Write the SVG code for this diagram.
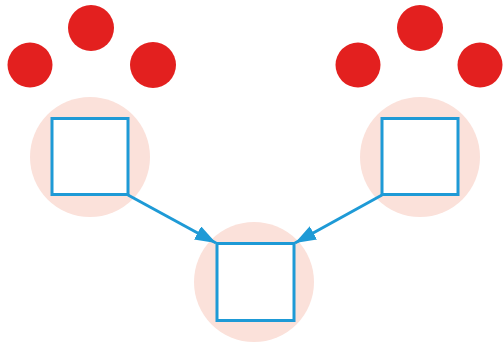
<svg xmlns="http://www.w3.org/2000/svg" width="503" height="347" viewBox="0 0 503 347">
<style>
.dot{fill:#e3201f}
.halo{fill:#fbe1da}
.box{fill:#fff;stroke:#1e9ad6;stroke-width:3}
.link{stroke:#1e9ad6;stroke-width:3;fill:none}
</style>
<defs>
<marker id="ah" viewBox="0 0 14 10" refX="14" refY="5" markerWidth="7" markerHeight="5" markerUnits="strokeWidth" orient="auto">
<path d="M0,0 L14,5 L0,10 Z" fill="#1e9ad6"/>
</marker>
</defs>
<rect width="503" height="347" fill="#fff"/>
<g id="dots-left">
<circle class="dot" cx="30" cy="65" r="22.5"/>
<circle class="dot" cx="91" cy="28" r="23"/>
<circle class="dot" cx="153" cy="65" r="23"/>
</g>
<g id="dots-right">
<circle class="dot" cx="358" cy="65" r="22.5"/>
<circle class="dot" cx="420" cy="28" r="23"/>
<circle class="dot" cx="480" cy="65" r="22.5"/>
</g>
<g id="node-left">
<circle class="halo" cx="90" cy="157" r="60"/>
<rect class="box" x="52" y="118.5" width="76" height="76"/>
</g>
<g id="node-right">
<circle class="halo" cx="420" cy="157" r="60"/>
<rect class="box" x="382" y="118.5" width="76" height="76"/>
</g>
<g id="node-bottom">
<circle class="halo" cx="254" cy="282" r="60"/>
<rect class="box" x="217" y="243.5" width="77" height="77"/>
</g>
<g id="connectors">
<line class="link" x1="128" y1="195" x2="216" y2="243" marker-end="url(#ah)"/>
<line class="link" x1="382" y1="195" x2="295" y2="243" marker-end="url(#ah)"/>
</g>
</svg>
